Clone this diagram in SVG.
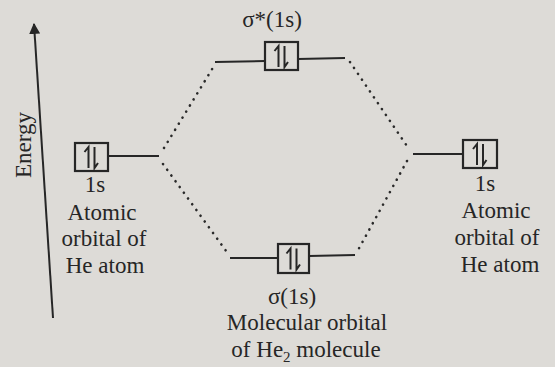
<svg xmlns="http://www.w3.org/2000/svg" width="555" height="367" viewBox="0 0 555 367">
<defs>
<style>
text{font-family:"Liberation Serif","Times New Roman",serif;font-size:23px;fill:#262626;text-anchor:middle}
.ln{stroke:#262626;stroke-width:2;fill:none}
.box{stroke:#262626;stroke-width:2.2;fill:none}
.dot{stroke:#2a2a2a;stroke-width:2.6;fill:none;stroke-dasharray:0.1 7;stroke-linecap:round}
</style>
<marker id="ah" viewBox="0 0 10 10" refX="9" refY="5" markerWidth="11" markerHeight="11" markerUnits="userSpaceOnUse" orient="auto">
<path d="M0,0 L10,5 L0,10 Z" fill="#262626"/>
</marker>
<g id="pair">
<path d="M-3,11 V-10 L-7,-5 M3,-10 V11 L6.5,6" stroke="#262626" stroke-width="2" fill="none"/>
</g>
</defs>
<rect width="555" height="367" fill="#dddbd7"/>
<g id="axis">
<line x1="53" y1="318" x2="34" y2="24" class="ln" marker-end="url(#ah)"/>
<text x="0" y="0" transform="translate(31,145) rotate(-90)" font-size="20">Energy</text>
</g>
<g id="connectors">
<line x1="108" y1="156" x2="159" y2="156" class="ln"/>
<line x1="215" y1="62" x2="265" y2="61" class="ln"/>
<line x1="298" y1="59" x2="345" y2="58" class="ln"/>
<line x1="413" y1="154" x2="463" y2="154" class="ln"/>
<line x1="230" y1="258" x2="278" y2="258" class="ln"/>
<line x1="309" y1="256" x2="355" y2="255" class="ln"/>
<line x1="164" y1="148" x2="214" y2="66" class="dot"/>
<line x1="163" y1="164" x2="229" y2="255" class="dot"/>
<line x1="350" y1="62" x2="409" y2="149" class="dot"/>
<line x1="407" y1="161" x2="357" y2="252" class="dot"/>
</g>
<g id="left-ao">
<rect x="75" y="143" width="33" height="28" class="box"/>
<use href="#pair" x="91.5" y="157"/>
<text x="95" y="192">1s</text>
<text x="102" y="220">Atomic</text>
<text x="104" y="246">orbital of</text>
<text x="105" y="273">He atom</text>
</g>
<g id="sigma-star">
<text x="272" y="27">σ*(1s)</text>
<rect x="265" y="42" width="33" height="28" class="box"/>
<use href="#pair" x="281.5" y="56"/>
</g>
<g id="right-ao">
<rect x="463" y="140" width="34" height="28" class="box"/>
<use href="#pair" x="480" y="154"/>
<text x="485" y="191">1s</text>
<text x="496" y="218">Atomic</text>
<text x="497" y="245">orbital of</text>
<text x="500" y="272">He atom</text>
</g>
<g id="sigma">
<rect x="278" y="244" width="31" height="29" class="box"/>
<use href="#pair" x="293.5" y="258.5"/>
<text x="292" y="304">σ(1s)</text>
<text x="307" y="330">Molecular orbital</text>
<text x="306" y="357">of He<tspan font-size="15" dy="5">2</tspan><tspan dy="-5"> molecule</tspan></text>
</g>
</svg>
